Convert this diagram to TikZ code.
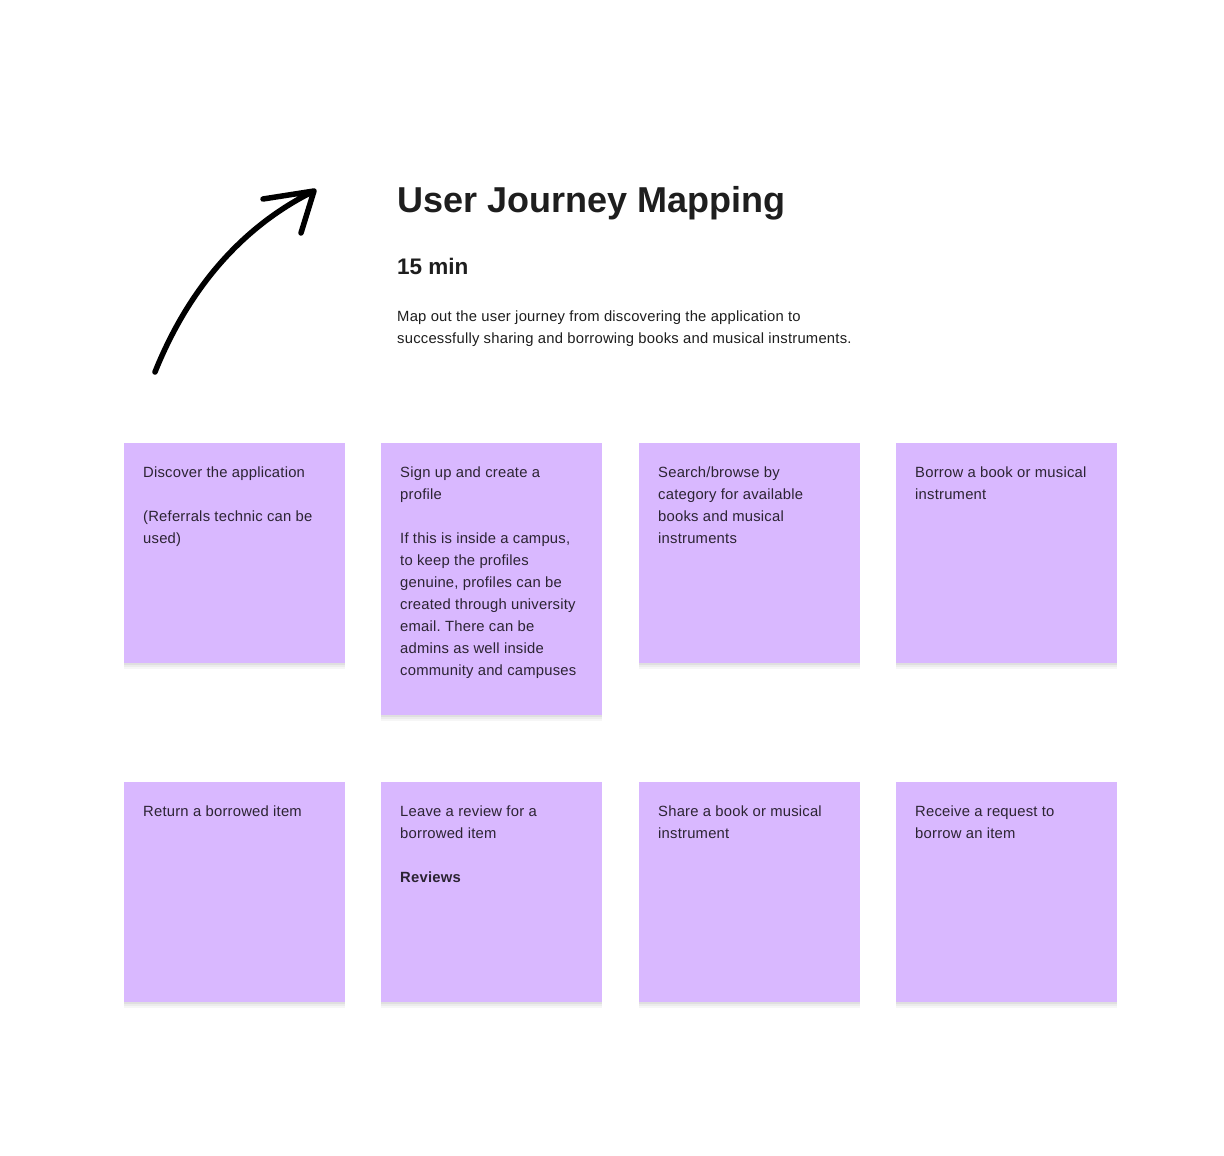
\documentclass[tikz,border=0pt]{standalone}
\usepackage{fontspec}
\setmainfont{Liberation Sans}
\newfontfamily\bodyfont[LetterSpace=1.5]{Liberation Sans}
\frenchspacing
\usetikzlibrary{shadows}
\definecolor{notepurple}{HTML}{D9B8FF}
\definecolor{inkdark}{HTML}{1E1E1E}
\definecolor{notetext}{HTML}{2C2433}
\tikzset{
  sticky/.style={fill=notepurple, anchor=north west, inner sep=0pt,
    minimum width=221pt, minimum height=220pt,
    general shadow={fill=black, opacity=0.035, shadow yshift=-6pt},
    general shadow={fill=black, opacity=0.04, shadow yshift=-4pt},
    general shadow={fill=black, opacity=0.05, shadow yshift=-2pt}},
  stickytext/.style={anchor=north west, inner sep=0pt, align=left, text=notetext,
    font=\bodyfont\fontsize{14.8}{22}\selectfont},
  headtext/.style={anchor=base west, inner sep=0pt, text=inkdark},
}
\begin{document}
\begin{tikzpicture}[x=1pt,y=-1pt]
\useasboundingbox[fill=white] (0,0) rectangle (1224,1156);

% hand drawn arrow
\coordinate (tail) at (155,372);
\coordinate (tip) at (314,191);
\draw[line width=5.5pt, line cap=round, line join=round, black]
  (tail) .. controls (190,285) and (245,225) .. (tip)
  (263,199) -- (tip) -- (301,233);

% heading
\node[headtext, font=\bfseries\fontsize{36}{40}\selectfont] (title) at (397,212.5) {User Journey Mapping};
\node[headtext, font=\bfseries\fontsize{22.5}{26}\selectfont] (duration) at (397,274) {15 min};
\node[headtext, anchor=north west, align=left, font=\bodyfont\fontsize{14.8}{22}\selectfont] (intro) at (397,306)
  {\strut Map out the user journey from discovering the application to\\
   successfully sharing and borrowing books and musical instruments.};

% first row
\node[sticky] (discover) at (124,443) {};
\node[stickytext] (discover text) at ([shift={(19,18.6)}]discover.north west)
  {\strut Discover the application\\[22pt]
   (Referrals technic can be\\ used)};

\node[sticky, minimum height=272pt] (signup) at (381,443) {};
\node[stickytext] (signup text) at ([shift={(19,18.6)}]signup.north west)
  {\strut Sign up and create a\\ profile\\[22pt]
   If this is inside a campus,\\ to keep the profiles\\ genuine, profiles can be\\
   created through university\\ email. There can be\\ admins as well inside\\
   community and campuses};

\node[sticky] (search) at (639,443) {};
\node[stickytext] (search text) at ([shift={(19,18.6)}]search.north west)
  {\strut Search/browse by\\ category for available\\ books and musical\\ instruments};

\node[sticky] (borrow) at (896,443) {};
\node[stickytext] (borrow text) at ([shift={(19,18.6)}]borrow.north west)
  {\strut Borrow a book or musical\\ instrument};

% second row
\node[sticky] (return) at (124,782) {};
\node[stickytext] (return text) at ([shift={(19,18.6)}]return.north west)
  {\strut Return a borrowed item};

\node[sticky] (review) at (381,782) {};
\node[stickytext] (review text) at ([shift={(19,18.6)}]review.north west)
  {\strut Leave a review for a\\ borrowed item\\[22pt] \textbf{Reviews}};

\node[sticky] (share) at (639,782) {};
\node[stickytext] (share text) at ([shift={(19,18.6)}]share.north west)
  {\strut Share a book or musical\\ instrument};

\node[sticky] (request) at (896,782) {};
\node[stickytext] (request text) at ([shift={(19,18.6)}]request.north west)
  {\strut Receive a request to\\ borrow an item};
\end{tikzpicture}
\end{document}
